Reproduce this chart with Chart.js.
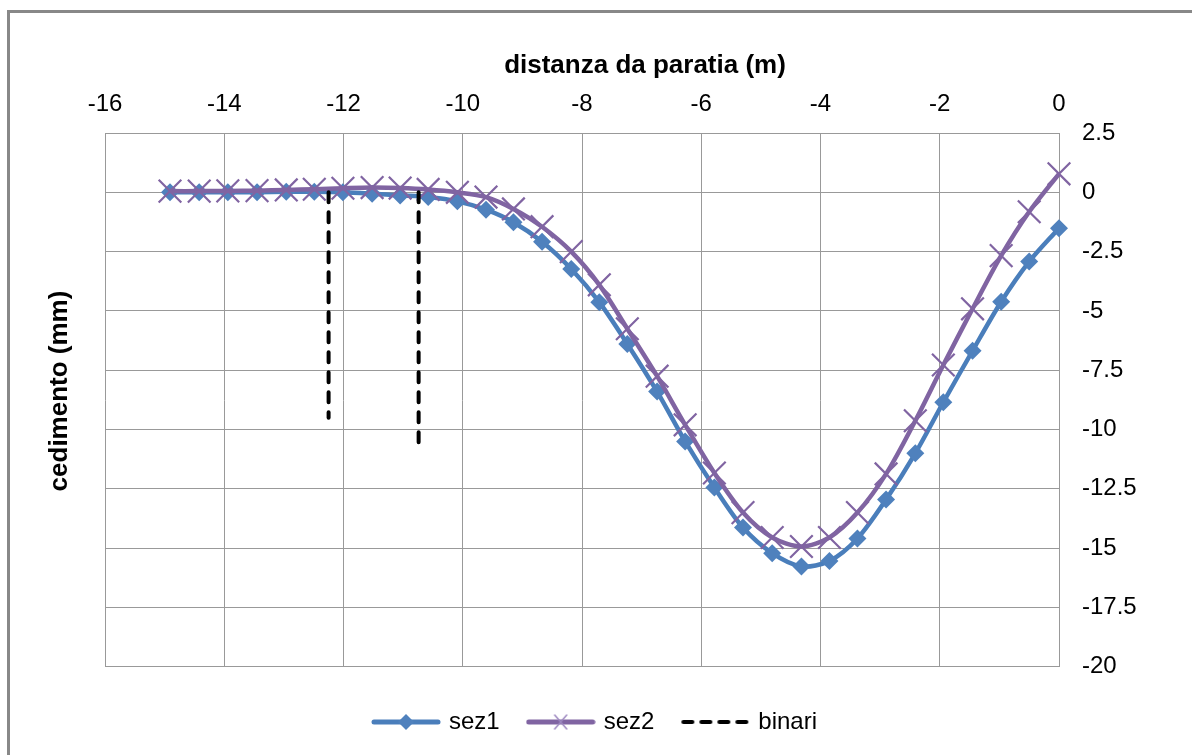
<!DOCTYPE html>
<html>
<head>
<meta charset="utf-8">
<script src="https://cdn.jsdelivr.net/npm/chart.js@4"></script>
<style>
  html, body { margin: 0; padding: 0; background: #fff; overflow: hidden; }
  #wrap { position: relative; width: 1192px; height: 755px; }
  #cornice { position: absolute; left: 7px; top: 10px; width: 1300px; height: 900px; border: 3px solid #888; box-sizing: border-box; pointer-events: none; }
  canvas { position: absolute; left: 0; top: 0; }
</style>
</head>
<body>
<div id="wrap">
  <canvas id="grafico" width="1192" height="755"></canvas>
  <div id="cornice"></div>
</div>
<script>
// dati
const distanza = [-14.91, -14.42, -13.94, -13.45, -12.96, -12.49, -12.01, -11.52, -11.05, -10.58,
  -10.09, -9.61, -9.15, -8.67, -8.18, -7.71, -7.24, -6.74, -6.27, -5.78,
  -5.30, -4.81, -4.32, -3.85, -3.38, -2.90, -2.41, -1.94, -1.45, -0.97, -0.50, 0];
const sez1 = [0, 0, 0, 0, 0.02, 0.02, 0, -0.06, -0.13, -0.2,
  -0.38, -0.73, -1.26, -2.08, -3.23, -4.63, -6.39, -8.4, -10.5, -12.44,
  -14.13, -15.21, -15.77, -15.54, -14.59, -12.95, -11.0, -8.85, -6.68, -4.61, -2.92, -1.51];
const sez2 = [0.05, 0.05, 0.06, 0.07, 0.1, 0.13, 0.17, 0.2, 0.18, 0.12,
  0.0, -0.2, -0.7, -1.45, -2.5, -3.9, -5.75, -7.75, -9.8, -11.83,
  -13.5, -14.55, -14.93, -14.55, -13.5, -11.87, -9.63, -7.28, -4.91, -2.67, -0.82, 0.78];
// binari: due tratti verticali, null = interruzione
const binariX = [-12.25, -12.25, null, -10.74, -10.74];
const binariY = [0, -9.5, null, 0, -10.8];

const nomiSerie = ["sez1", "sez2", "binari"];
const titoloX = "distanza da paratia (m)";
const titoloY = "cedimento (mm)";

const BLU = "#4a7ebb";
const VIOLA = "#8064a2";
const FONT = '"Liberation Sans", Arial, sans-serif';

const punti = (xs, ys) => xs.map((x, i) => ({ x: x === null ? NaN : x, y: ys[i] }));

// icone della legenda (linea + marcatore)
function iconaLegenda(tipo) {
  const c = document.createElement("canvas");
  c.width = 70; c.height = 24;
  const g = c.getContext("2d");
  if (tipo === "binari") {
    g.strokeStyle = "#000";
    g.lineWidth = 4;
    g.lineCap = "round";
    for (let i = 0; i < 4; i++) {
      g.beginPath();
      g.moveTo(3 + i * 18, 12);
      g.lineTo(12 + i * 18, 12);
      g.stroke();
    }
    return c;
  }
  g.strokeStyle = tipo === "sez1" ? BLU : VIOLA;
  g.lineWidth = 5;
  g.lineCap = "round";
  g.beginPath();
  g.moveTo(3, 12);
  g.lineTo(67, 12);
  g.stroke();
  if (tipo === "sez1") {
    g.fillStyle = "#4f81bd";
    g.beginPath();
    g.moveTo(35, 4); g.lineTo(43, 12); g.lineTo(35, 20); g.lineTo(27, 12);
    g.closePath();
    g.fill();
  } else {
    g.strokeStyle = "#9d88c0";
    g.lineWidth = 1.5;
    g.beginPath();
    g.moveTo(29, 5); g.lineTo(41, 19);
    g.moveTo(41, 5); g.lineTo(29, 19);
    g.stroke();
  }
  return c;
}
const icone = nomiSerie.map(iconaLegenda);

const titoliAssi = {
  id: "titoliAssi",
  afterDraw(chart) {
    const ctx = chart.ctx;
    ctx.save();
    ctx.fillStyle = "#000";
    ctx.font = "bold 26px " + FONT;
    ctx.textAlign = "center";
    ctx.textBaseline = "middle";
    ctx.fillText(titoloX, 645, 66);
    ctx.translate(60, 391);
    ctx.rotate(-Math.PI / 2);
    ctx.fillText(titoloY, 0, 0);
    ctx.restore();
  }
};

new Chart(document.getElementById("grafico").getContext("2d"), {
  type: "line",
  data: {
    datasets: [
      {
        label: nomiSerie[0],
        data: punti(distanza, sez1),
        borderColor: BLU,
        borderWidth: 4.5,
        backgroundColor: "#4f81bd",
        pointStyle: "rectRot",
        pointRadius: 9,
        pointBorderWidth: 0,
        pointBackgroundColor: "#4f81bd",
        tension: 0.3,
        clip: false,
        order: 3
      },
      {
        label: nomiSerie[1],
        data: punti(distanza, sez2),
        borderColor: VIOLA,
        borderWidth: 4.5,
        pointStyle: "crossRot",
        pointRadius: 16,
        pointBorderWidth: 2.2,
        pointBorderColor: VIOLA,
        tension: 0.3,
        clip: false,
        order: 2
      },
      {
        label: nomiSerie[2],
        data: punti(binariX, binariY),
        borderColor: "#000",
        borderWidth: 4,
        borderDash: [10, 10],
        borderCapStyle: "round",
        pointRadius: 0,
        spanGaps: false,
        tension: 0,
        order: 1
      }
    ]
  },
  options: {
    responsive: false,
    animation: false,
    layout: { padding: { left: 0, right: 0, top: 0, bottom: 11 } },
    scales: {
      x: {
        type: "linear",
        position: "top",
        min: -16,
        max: 0,
        afterFit: s => { s.height = 133; },
        ticks: { stepSize: 2, autoSkip: false, maxRotation: 0, padding: 14, color: "#000", font: { family: FONT, size: 24 } },
        grid: { color: "#999", lineWidth: 1, drawTicks: false },
        border: { color: "#999" }
      },
      y: {
        type: "linear",
        position: "right",
        min: -20,
        max: 2.5,
        afterFit: s => { s.width = 133; },
        ticks: { stepSize: 2.5, padding: 23, color: "#000", font: { family: FONT, size: 24 }, callback: v => String(v) },
        grid: { color: "#999", lineWidth: 1, drawTicks: false },
        border: { color: "#999" }
      },
      // asse vuoto a sinistra: riserva lo spazio del titolo verticale
      ySinistra: {
        type: "linear",
        position: "left",
        afterFit: s => { s.width = 105; },
        ticks: { display: false },
        grid: { display: false },
        border: { display: false }
      }
    },
    plugins: {
      tooltip: { enabled: false },
      legend: {
        position: "bottom",
        title: { display: true, text: "", padding: { top: 12, bottom: 0 }, font: { size: 1 } },
        labels: {
          usePointStyle: true,
          pointStyleWidth: 62,
          padding: 30,
          color: "#000",
          font: { family: FONT, size: 24 },
          generateLabels: chart => chart.data.datasets.map((d, i) => ({
            text: d.label,
            datasetIndex: i,
            pointStyle: icone[i],
            fillStyle: "rgba(0,0,0,0)",
            strokeStyle: "rgba(0,0,0,0)",
            lineWidth: 0,
            hidden: false,
            fontColor: "#000"
          }))
        }
      }
    }
  },
  plugins: [titoliAssi]
});
</script>
</body>
</html>
